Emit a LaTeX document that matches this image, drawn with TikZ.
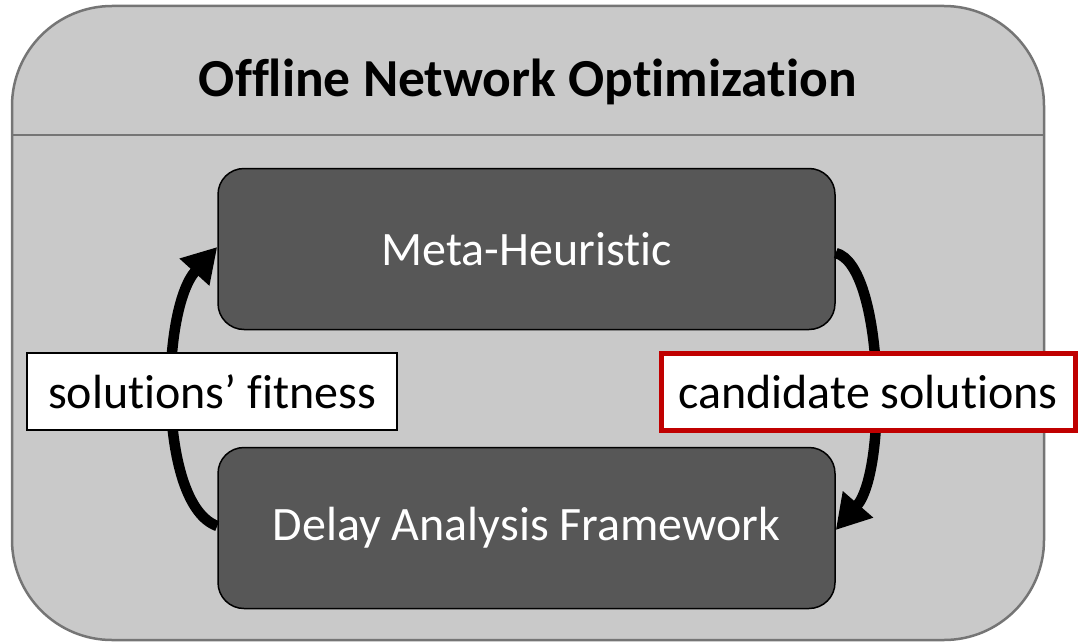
\documentclass[tikz,border=0pt]{standalone}
\usepackage{fontspec}
\setmainfont[Ligatures=NoCommon]{Carlito}
\usetikzlibrary{arrows.meta}
\definecolor{outerfill}{HTML}{C9C9C9}
\definecolor{outerline}{HTML}{757575}
\definecolor{boxfill}{HTML}{575757}
\definecolor{redline}{HTML}{C00000}
\begin{document}
\begin{tikzpicture}[x=1pt,y=-1pt,
  procbox/.style={draw=black, line width=1.5pt, fill=boxfill, rounded corners=26pt,
    minimum width=617pt, minimum height=161pt, text=white, font=\fontsize{48}{56}\selectfont, inner sep=0pt},
  lblbox/.style={draw=black, line width=1.2pt, fill=white, font=\fontsize{48}{56}\selectfont, inner sep=0pt},
  flow/.style={line width=10.5pt, -{Triangle[length=34pt,width=38pt]}}
]
\useasboundingbox (0,0) rectangle (1078,642);
% outer container
\draw[draw=outerline, line width=2.5pt, fill=outerfill, rounded corners=100pt] (12,6) rectangle (1044,640);
\coordinate (dl) at (12,135);
\coordinate (dr) at (1044,135);
\draw[outerline, line width=1.5pt] (dl) -- (dr);
\node[font=\bfseries\fontsize{53.5}{60}\selectfont] (title) at (528,82) {Offline Network Optimization};
% process boxes
\node[procbox] (meta) at (526.5,249) {Meta-Heuristic};
\node[procbox] (delay) at (526.5,528) {Delay Analysis Framework};
% arrows
\draw[flow] ([yshift=2pt]delay.west) .. controls (158,505) and (160,310) .. ([yshift=2pt]meta.west);
\draw[flow] ([yshift=-4pt]meta.east) .. controls (884,265) and (888,470) .. ([yshift=-2pt]delay.east);
% labels
\node[lblbox, minimum width=370pt, minimum height=77pt] (fit) at (212,391.5) {solutions’ fitness};
\node[lblbox, draw=redline, line width=5pt, minimum width=414pt, minimum height=77pt] (cand) at (868,392) {candidate solutions};
\end{tikzpicture}
\end{document}
